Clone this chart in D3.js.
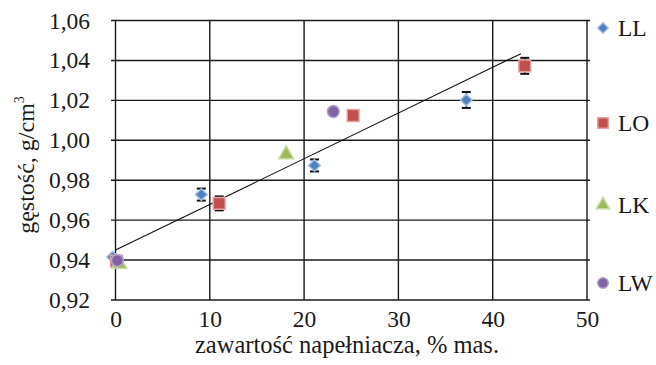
<!DOCTYPE html>
<html>
<head>
<meta charset="utf-8">
<title>gęstość</title>
<script src="https://d3js.org/d3.v7.min.js"></script>
<style>
    body { margin: 0; background: #fff; }
    text { font-family: "Liberation Serif", "Times New Roman", serif; fill: #1a1a1a; }
</style>
</head>
<body>
<div id="chart"></div>
<script>
    // data
    var seriesNames = ["LL", "LO", "LK", "LW"];
    var seriesColors = ["#4F81BD", "#C0504D", "#9BBB59", "#8064A2"];
    var seriesStroke = ["#9DBAE0", "#E3A3A1", "#C6D9A0", "#B5A3CC"];
    var seriesShapes = [d3.symbolDiamond2, d3.symbolSquare, d3.symbolTriangle, d3.symbolCircle];

    var llX = [-0.3, 9.1, 21.1, 37.2];
    var llY = [0.9415, 0.9728, 0.9874, 1.0202];
    var llErr = [0, 0.003, 0.003, 0.004];

    var loX = [0.1, 11.0, 25.2, 43.4];
    var loY = [0.9395, 0.9684, 1.0124, 1.0373];
    var loErr = [0, 0.0035, 0, 0.004];

    var lkX = [0.4, 18.1];
    var lkY = [0.9380, 0.9929];

    var lwX = [0.2, 23.1];
    var lwY = [0.9398, 1.0144];

    var trendX = [0, 43];
    var trendY = [0.945, 1.0434];

    var xTicks = [0, 10, 20, 30, 40, 50];
    var yTicks = [0.92, 0.94, 0.96, 0.98, 1.00, 1.02, 1.04, 1.06];

    var W = 656, H = 365;
    var svg = d3.select("#chart").append("svg")
        .attr("width", W)
        .attr("height", H);

    var x = d3.scaleLinear().domain([0, 50]).range([115.5, 587]);
    var y = d3.scaleLinear().domain([0.92, 1.06]).range([300, 20.5]);

    var fmt = function (d) { return d3.format(".2f")(d).replace(".", ","); };

    // grid
    svg.append("g")
        .selectAll("line.h")
        .data(yTicks)
        .join("line")
        .attr("x1", 111).attr("x2", 590)
        .attr("y1", d => y(d)).attr("y2", d => y(d))
        .attr("stroke", "#1a1a1a").attr("stroke-width", 1.4);

    svg.append("g")
        .selectAll("line.v")
        .data(xTicks)
        .join("line")
        .attr("x1", d => x(d)).attr("x2", d => x(d))
        .attr("y1", y(1.06)).attr("y2", y(0.92))
        .attr("stroke", "#1a1a1a").attr("stroke-width", 1.4);

    // axes (labels only)
    var yAxis = svg.append("g")
        .attr("transform", "translate(" + 90 + ",0)")
        .call(d3.axisLeft(y).tickValues(yTicks).tickFormat(fmt).tickSize(0).tickPadding(0));
    yAxis.select(".domain").remove();
    yAxis.selectAll("text")
        .attr("font-size", 23.5)
        .attr("font-family", "Liberation Serif, serif")
        .attr("fill", "#1a1a1a");

    var xAxis = svg.append("g")
        .attr("transform", "translate(0," + 310 + ")")
        .call(d3.axisBottom(x).tickValues(xTicks).tickSize(0).tickPadding(0));
    xAxis.select(".domain").remove();
    xAxis.selectAll("text")
        .attr("font-size", 23.5)
        .attr("font-family", "Liberation Serif, serif")
        .attr("fill", "#1a1a1a");

    // axis titles
    svg.append("text")
        .attr("x", 347)
        .attr("y", 353)
        .attr("text-anchor", "middle")
        .attr("font-size", 24.5)
        .text("zawartość napełniacza, % mas.");

    var yt = svg.append("text")
        .attr("transform", "translate(34,165) rotate(-90)")
        .attr("text-anchor", "middle")
        .attr("font-size", 24);
    yt.append("tspan").text("gęstość, g/cm");
    yt.append("tspan").attr("font-size", 14).attr("dy", -10).text("3");

    // trend line
    svg.append("line")
        .attr("x1", x(trendX[0])).attr("y1", y(trendY[0]))
        .attr("x2", x(trendX[1])).attr("y2", y(trendY[1]))
        .attr("stroke", "#111").attr("stroke-width", 1.1);

    // error bars
    function errorBars(xs, ys, es) {
        var g = svg.append("g").attr("stroke", "#111").attr("stroke-width", 1.3);
        xs.forEach(function (xv, i) {
            if (!es[i]) return;
            var cx = x(xv), top = y(ys[i] + es[i]), bot = y(ys[i] - es[i]);
            g.append("line").attr("x1", cx).attr("x2", cx).attr("y1", top).attr("y2", bot);
            g.append("line").attr("x1", cx - 4.5).attr("x2", cx + 4.5).attr("y1", top).attr("y2", top).attr("stroke-width", 2);
            g.append("line").attr("x1", cx - 4.5).attr("x2", cx + 4.5).attr("y1", bot).attr("y2", bot).attr("stroke-width", 2);
        });
    }

    var sizes = [85, 140, 95, 110];

    function points(xs, ys, k) {
        var sym = d3.symbol().type(seriesShapes[k]).size(sizes[k]);
        svg.append("g")
            .selectAll("path")
            .data(xs.map((d, i) => [d, ys[i]]))
            .join("path")
            .attr("transform", d => "translate(" + x(d[0]) + "," + y(d[1]) + ")")
            .attr("d", sym)
            .attr("fill", seriesColors[k])
            .attr("stroke", seriesStroke[k])
            .attr("stroke-width", 1.5);
    }

    errorBars(llX, llY, llErr);
    points(llX, llY, 0);
    errorBars(loX, loY, loErr);
    points(loX, loY, 1);
    points(lkX, lkY, 2);
    points(lwX, lwY, 3);

    // legend
    var legendY = [28, 123, 205, 283];
    seriesNames.forEach(function (name, k) {
        var g = svg.append("g").attr("transform", "translate(603," + legendY[k] + ")");
        g.append("path")
            .attr("d", d3.symbol().type(seriesShapes[k]).size(sizes[k] * 0.8))
            .attr("fill", seriesColors[k])
            .attr("stroke", seriesStroke[k])
            .attr("stroke-width", 1.5);
        g.append("text")
            .attr("x", 15)
            .attr("y", 8)
            .attr("font-size", 23.5)
            .text(name);
    });
</script>
</body>
</html>
